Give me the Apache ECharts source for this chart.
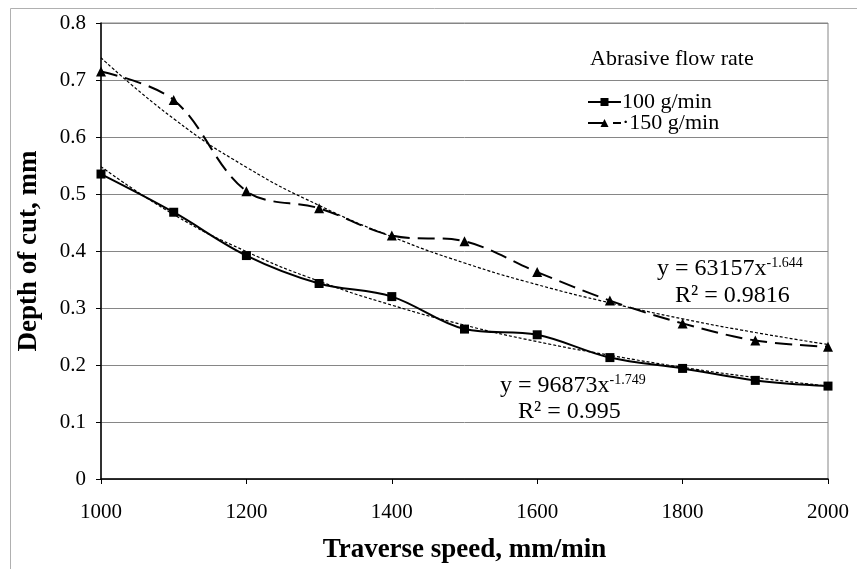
<!DOCTYPE html>
<html><head><meta charset="utf-8">
<script src="https://cdn.jsdelivr.net/npm/echarts@6/dist/echarts.min.js"></script>
<style>html,body{margin:0;padding:0;background:#fff}#c{width:857px;height:569px}</style>
</head><body><div id="c"></div>
<script>
var speeds = [1000,1100,1200,1300,1400,1500,1600,1700,1800,1900,2000];
var depth100 = [0.535,0.468,0.392,0.343,0.320,0.263,0.253,0.213,0.194,0.173,0.163];
var depth150 = [0.715,0.665,0.505,0.475,0.427,0.417,0.363,0.313,0.273,0.243,0.232];
// power trendlines
var trend100 = [0.548,0.464,0.399,0.347,0.305,0.270,0.241,0.217,0.196,0.178,0.163];
var trend150 = [0.739,0.632,0.547,0.480,0.425,0.379,0.341,0.309,0.281,0.257,0.236];
var xTicks = [1000,1200,1400,1600,1800,2000];
var yTicks = [0,0.1,0.2,0.3,0.4,0.5,0.6,0.7,0.8];
function pairs(xs, ys){ return xs.map(function(x,i){return [x, ys[i]];}); }
var F = '"Liberation Serif","Times New Roman",serif';
var chart = echarts.init(document.getElementById('c'));
var sup = {a:{font:'24px '+F,fill:'#000'},s:{font:'14px '+F,fill:'#000',verticalAlign:'top',padding:[0,0,12,0]}};
chart.setOption({
  animation:false,
  backgroundColor:'#fff',
  textStyle:{fontFamily:F},
  grid:{left:101,right:29,top:23,bottom:89,show:true,borderColor:'#868686',borderWidth:1},
  legend:{
    data:['100 g/min','·150 g/min'],
    orient:'vertical', left:582, top:86, itemGap:-1, itemWidth:33, itemHeight:10,
    textStyle:{fontFamily:F,fontSize:22,color:'#000',padding:[0,0,0,-4]}
  },
  xAxis:{
    type:'value', min:1000, max:2000, interval:200,
    name:'Traverse speed, mm/min', nameLocation:'middle', nameGap:58,
    nameTextStyle:{fontFamily:F,fontSize:27,fontWeight:'bold',color:'#000'},
    axisLine:{show:true,lineStyle:{color:'#000',width:1.5}},
    axisTick:{show:true,length:5,lineStyle:{color:'#000'}},
    axisLabel:{fontFamily:F,fontSize:21,color:'#000',margin:23,
      formatter:function(v){return String(v);}},
    splitLine:{show:false}
  },
  yAxis:{
    type:'value', min:0, max:0.8, interval:0.1,
    name:'Depth of cut, mm', nameLocation:'middle', nameGap:58,
    nameTextStyle:{fontFamily:F,fontSize:27,fontWeight:'bold',color:'#000'},
    axisLine:{show:true,lineStyle:{color:'#000',width:1.5}},
    axisTick:{show:true,length:5,lineStyle:{color:'#000'}},
    axisLabel:{fontFamily:F,fontSize:21,color:'#000',margin:15,
      formatter:function(v){return v===0?'0':v.toFixed(1);}},
    splitLine:{show:true,lineStyle:{color:'#868686',width:1}}
  },
  graphic:[
    {type:'rect',left:8,top:6,shape:{width:860,height:570},style:{fill:'none',stroke:'#b0b0b0',lineWidth:1},silent:true},
    {type:'text',left:590,top:48,style:{text:'Abrasive flow rate',font:'22px '+F,fill:'#000'}},
    {type:'text',left:657,top:256,style:{text:'{a|y = 63157x}{s|-1.644}',rich:sup}},
    {type:'text',left:675,top:284,style:{text:'R² = 0.9816',font:'24px '+F,fill:'#000'}},
    {type:'text',left:500,top:373,style:{text:'{a|y = 96873x}{s|-1.749}',rich:sup}},
    {type:'text',left:518,top:400,style:{text:'R² = 0.995',font:'24px '+F,fill:'#000'}}
  ],
  series:[
    {name:'100 g/min',type:'line',data:pairs(speeds,depth100),smooth:0.35,
     symbol:'rect',symbolSize:9,itemStyle:{color:'#000'},lineStyle:{color:'#000',width:2},z:3},
    {name:'·150 g/min',type:'line',data:pairs(speeds,depth150),smooth:0.35,
     symbol:'triangle',symbolSize:10,itemStyle:{color:'#000'},lineStyle:{color:'#000',width:2,type:[17,8]},z:3},
    {name:'trend100',type:'line',data:pairs(speeds,trend100),smooth:true,symbol:'none',
     lineStyle:{color:'#000',width:1.2,type:[3,2]},z:2},
    {name:'trend150',type:'line',data:pairs(speeds,trend150),smooth:true,symbol:'none',
     lineStyle:{color:'#000',width:1.2,type:[3,2]},z:2}
  ]
});
</script></body></html>
